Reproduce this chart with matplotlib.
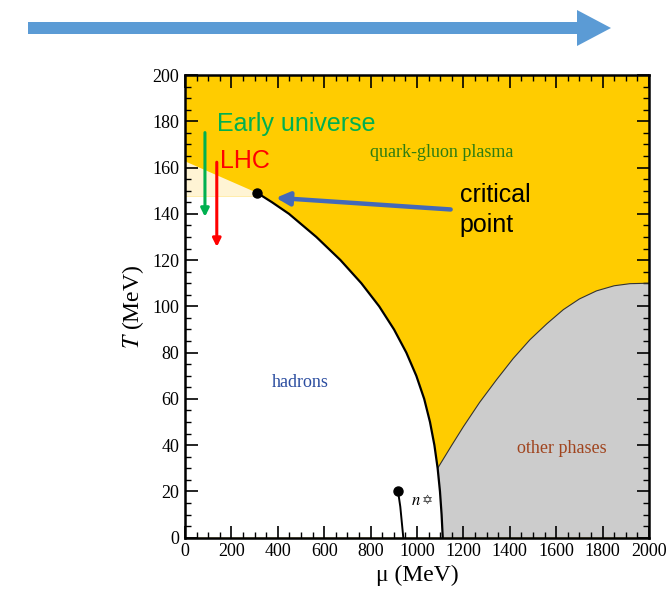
import matplotlib.pyplot as plt
import numpy as np
from matplotlib.patches import Polygon

# chemical potential (MeV) and temperature (MeV)
crit_mu, crit_T = 312, 149

# crossover / first order line, critical point down to T = 0
line_mu = [312, 375, 448, 566, 670, 760, 837, 901, 954, 997, 1031, 1056, 1075, 1089, 1099, 1106, 1111]
line_T = [149, 145, 140, 130, 120, 110, 100, 90, 80, 70, 60, 50, 40, 30, 20, 10, 0]

# boundary of the "other phases" region
other_mu = [1089, 1150, 1200, 1270, 1343, 1415, 1487, 1560, 1631, 1700, 1774, 1850, 1918, 2000]
other_T = [30, 40, 48, 58.5, 68.3, 77.5, 85.6, 92.5, 98.6, 103.2, 106.7, 108.9, 109.8, 110]

# nuclear liquid-gas line
nuc_mu = [918, 928, 941]
nuc_T = [20.2, 13.4, 0]

# crossover band (dotted wedge)
band_top = 162.7
band_bottom = 147.5

# tick labels
x_ticks = list(range(0, 2001, 200))
y_ticks = list(range(0, 201, 20))
x_labels = [str(v) for v in x_ticks]
y_labels = [str(v) for v in y_ticks]

yellow = '#FFCC00'
gray = '#CCCCCC'
serif = 'Liberation Serif'
sans = 'Liberation Sans'

plt.rcParams['font.family'] = [serif, 'DejaVu Serif']
plt.rcParams['mathtext.fontset'] = 'stix'
plt.rcParams['hatch.color'] = '#F8D66A'
plt.rcParams['hatch.linewidth'] = 0.6

fig = plt.figure(figsize=(6.66, 5.91), dpi=100)

# top arrow drawn in pixel space
bg = fig.add_axes([0, 0, 1, 1])
bg.set_xlim(0, 666)
bg.set_ylim(591, 0)
bg.axis('off')
bg.add_patch(Polygon([(28, 22), (577, 22), (577, 10), (611, 28), (577, 46), (577, 34), (28, 34)],
                     closed=True, facecolor='#5B9BD5', edgecolor='none'))

ax = fig.add_axes([185/666, 1-537.7/591, 464/666, 462.7/591])
ax.set_facecolor(yellow)
ax.set_xlim(0, 2000)
ax.set_ylim(0, 200)

# hadron region (white)
had = [(0, 0), (0, band_bottom), (crit_mu, band_bottom)] + list(zip(line_mu, line_T))
ax.add_patch(Polygon(had, closed=True, facecolor='white', edgecolor='none', zorder=1))

# dotted crossover wedge
wedge = [(0, band_top), (crit_mu, crit_T), (crit_mu, band_bottom), (0, band_bottom)]
ax.add_patch(Polygon(wedge, closed=True, facecolor='#FFF4D4', edgecolor='none',
                     hatch='.....', zorder=1))

# other phases region (gray)
oth = list(zip(other_mu, other_T)) + [(2000, 0), (1111, 0), (1106, 10), (1099, 20)]
ax.add_patch(Polygon(oth, closed=True, facecolor=gray, edgecolor='none', zorder=1))
ax.plot(other_mu, other_T, color='#333333', lw=0.8, zorder=2)

ax.plot(line_mu, line_T, color='black', lw=1.6, zorder=3, solid_joinstyle='round')
ax.plot(nuc_mu, nuc_T, color='black', lw=1.4, zorder=3)
ax.plot([crit_mu], [crit_T], 'o', color='black', ms=6.5, zorder=4)
ax.plot([nuc_mu[0]], [nuc_T[0]], 'o', color='black', ms=6.5, zorder=4)

# region labels
ax.text(1108, 164.4, 'quark-gluon plasma', color='#2E7D12', fontsize=13, ha='center', zorder=5)
ax.text(496, 65.3, 'hadrons', color='#2B4DA0', fontsize=13, ha='center', zorder=5)
ax.text(1626, 36.8, 'other phases', color='#A0441E', fontsize=13, ha='center', zorder=5)
ax.text(975, 14.2, '$n$', fontsize=12, zorder=5)
ax.text(1022, 14.6, '\u2721', fontsize=9.5, family='DejaVu Sans', color='#333333', zorder=5)

# annotations
ax.text(137, 175.7, 'Early universe', color='#00B050', fontsize=18, family=sans, zorder=6)
ax.annotate('', xy=(86, 137.5), xytext=(86, 176.3),
            arrowprops=dict(arrowstyle='-|>', color='#00B050', lw=2.2, mutation_scale=12), zorder=6)
ax.text(151, 159.6, 'LHC', color='#FF0000', fontsize=18, family=sans, zorder=6)
ax.annotate('', xy=(137, 124.5), xytext=(137, 163.5),
            arrowprops=dict(arrowstyle='-|>', color='#FF0000', lw=2.2, mutation_scale=12), zorder=6)
ax.text(1185, 144.9, 'critical', color='black', fontsize=18, family=sans, zorder=6)
ax.text(1185, 132.0, 'point', color='black', fontsize=18, family=sans, zorder=6)
ax.annotate('', xy=(380, 147), xytext=(1157, 141.8),
            arrowprops=dict(arrowstyle='-|>', color='#4469B8', lw=3.2, mutation_scale=20), zorder=6)

# axes styling
ax.set_xticks(x_ticks, labels=x_labels, fontfamily=serif, fontsize=13)
ax.set_yticks(y_ticks, labels=y_labels, fontfamily=serif, fontsize=13)
ax.set_xticks(np.arange(0, 2001, 50), minor=True)
ax.set_yticks(np.arange(0, 201, 5), minor=True)
ax.tick_params(which='both', direction='in', top=True, right=True, pad=4)
ax.tick_params(which='major', length=9, width=1.2)
ax.tick_params(which='minor', length=4.5, width=1.0)
for s in ax.spines.values():
    s.set_linewidth(1.8)
    s.set_zorder(10)

ax.set_xlabel('\u03bc (MeV)', fontsize=17, labelpad=3)
ax.set_ylabel('$T$ (MeV)', fontsize=17, labelpad=5)

fig.savefig('out.png', dpi=100)
